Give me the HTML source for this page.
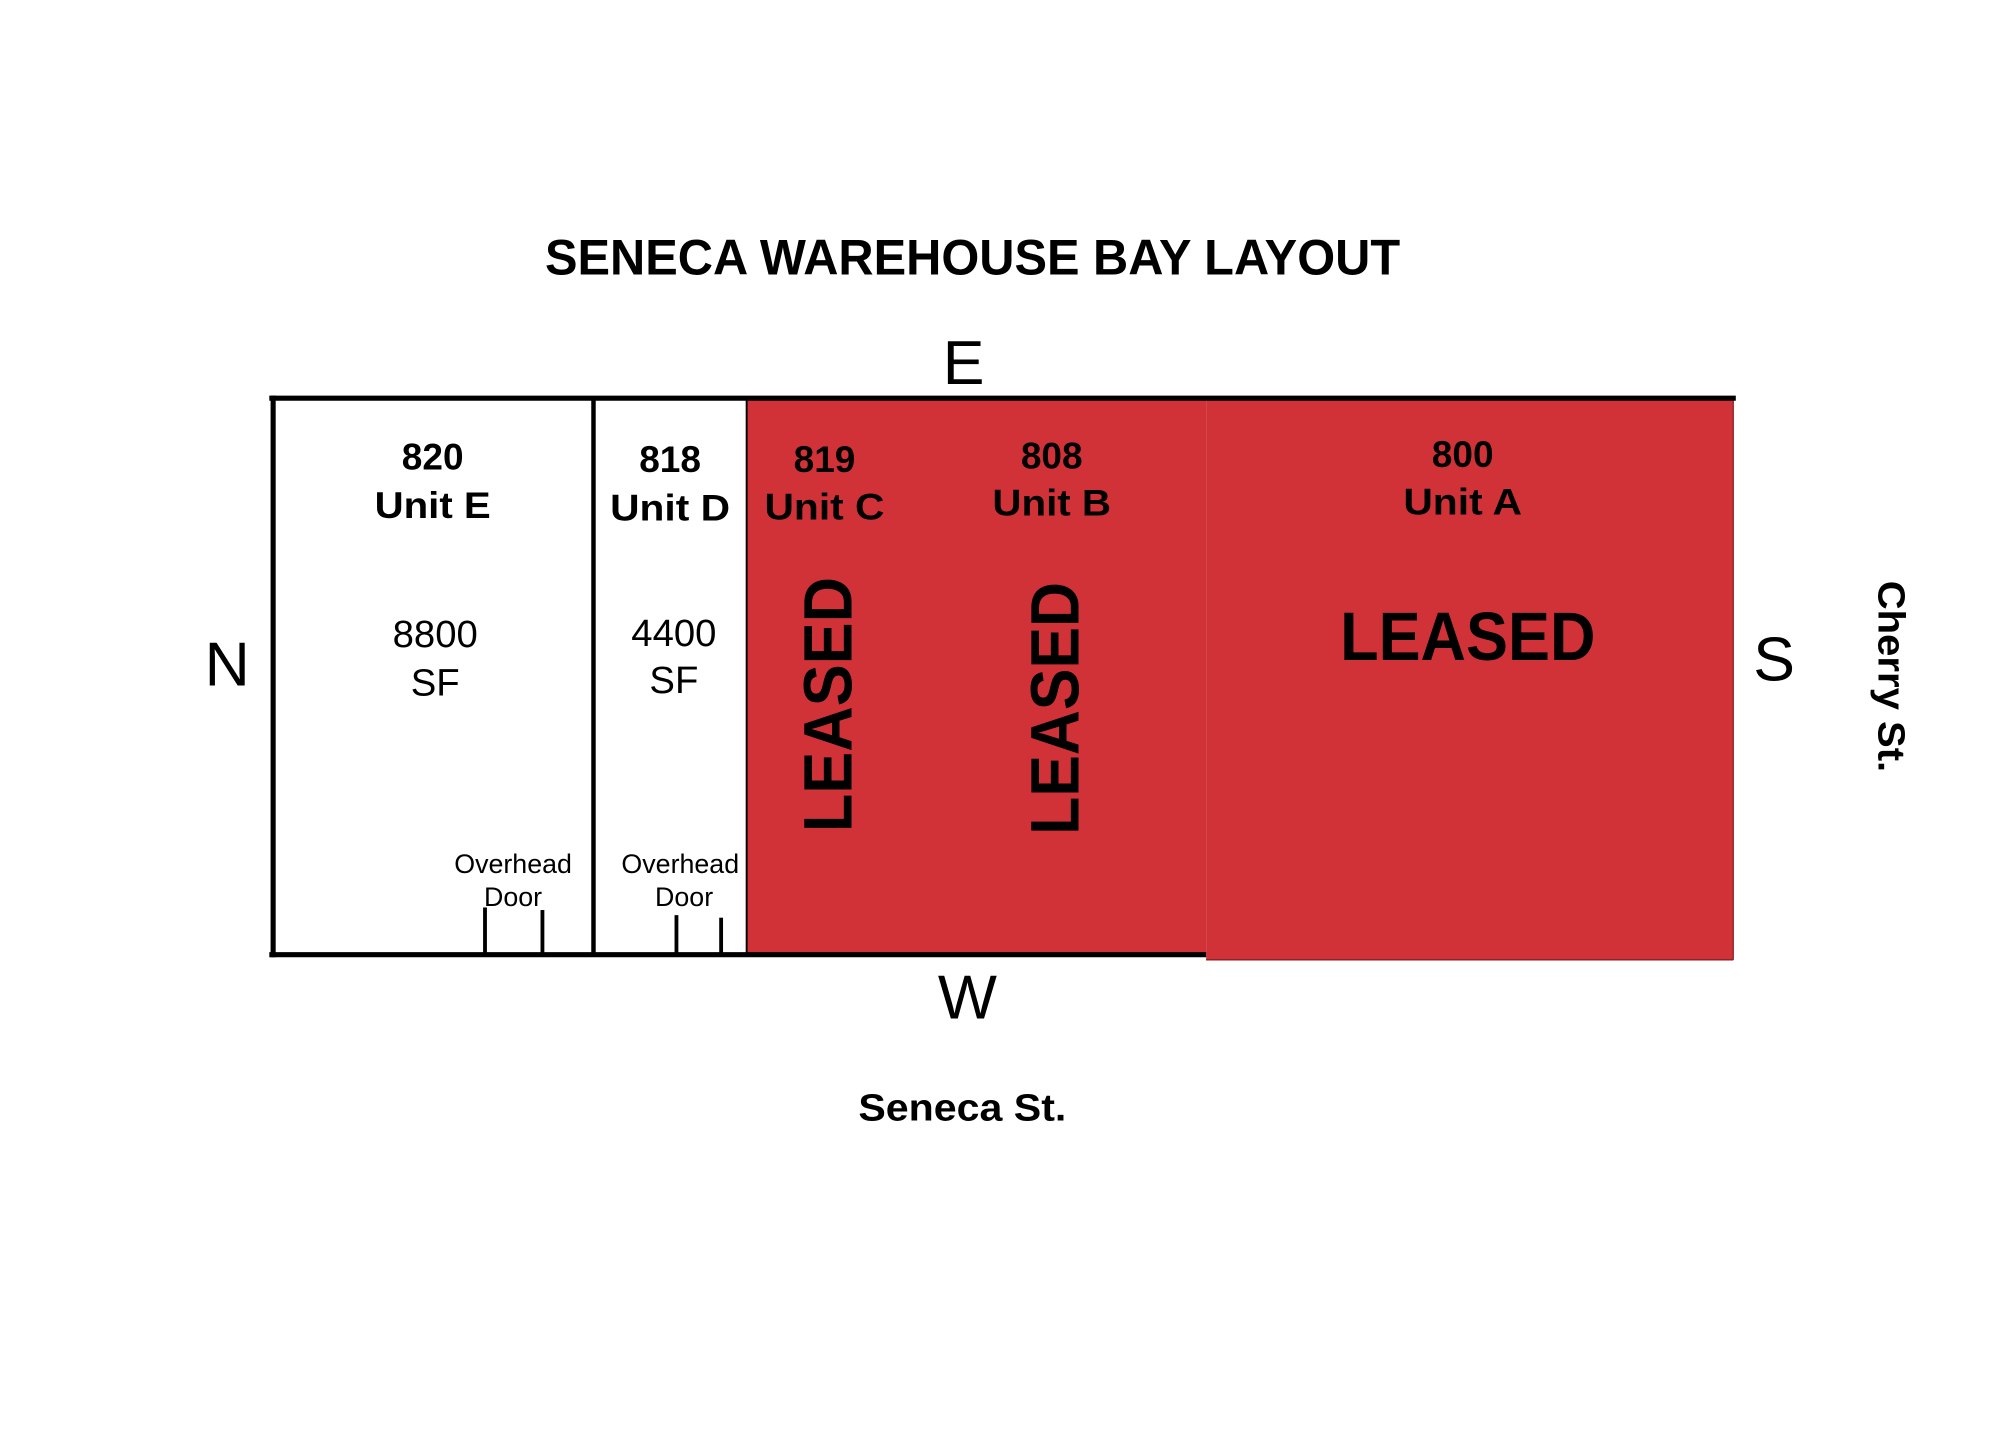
<!DOCTYPE html>
<html><head><meta charset="utf-8"><style>html,body{margin:0;padding:0;background:#fff}svg{display:block}</style></head>
<body>
<svg width="2000" height="1429" viewBox="0 0 1567 1119.6" preserveAspectRatio="none" xmlns="http://www.w3.org/2000/svg" font-family="Liberation Sans, Arial, sans-serif">
<rect x="0" y="0" width="1567" height="1120" fill="#fff"/>
<rect x="585" y="312" width="360" height="436" fill="#D13238"/>
<rect x="945" y="312" width="413" height="440" fill="#D13238"/>
<line x1="1358" y1="312" x2="1358" y2="752" stroke="#8a1e22" stroke-width="1"/>
<line x1="945" y1="752" x2="1358" y2="752" stroke="#8a1e22" stroke-width="1"/>
<line x1="211" y1="312" x2="1360" y2="312" stroke="#000" stroke-width="4"/>
<line x1="211" y1="748" x2="945" y2="748" stroke="#000" stroke-width="4"/>
<line x1="214" y1="310" x2="214" y2="750" stroke="#000" stroke-width="4"/>
<line x1="465" y1="312" x2="465" y2="748" stroke="#000" stroke-width="3.5"/>
<line x1="585" y1="312" x2="585" y2="748" stroke="#000" stroke-width="1.5"/>
<g stroke="#000" stroke-width="3">
<line x1="380" y1="711" x2="380" y2="748"/>
<line x1="425" y1="713" x2="425" y2="748"/>
<line x1="530" y1="717" x2="530" y2="748"/>
<line x1="565" y1="719" x2="565" y2="748"/>
</g>
<g fill="#000" text-anchor="middle">
<text x="762" y="215" font-size="39" font-weight="bold" textLength="670" lengthAdjust="spacingAndGlyphs">SENECA WAREHOUSE BAY LAYOUT</text>
<text x="755" y="301" font-size="49">E</text>
<text x="758" y="798" font-size="49">W</text>
<text x="178" y="537" font-size="49">N</text>
<text x="1390" y="533" font-size="49">S</text>
<text x="754" y="878" font-size="30" font-weight="bold" textLength="163" lengthAdjust="spacingAndGlyphs">Seneca St.</text>
<text transform="translate(1472,530) rotate(90)" font-size="30" font-weight="bold" textLength="150" lengthAdjust="spacingAndGlyphs">Cherry St.</text>
<g font-size="29" font-weight="bold">
<text x="339" y="368">820</text><text x="339" y="406" textLength="91" lengthAdjust="spacingAndGlyphs">Unit E</text>
<text x="525" y="370">818</text><text x="525" y="408" textLength="94" lengthAdjust="spacingAndGlyphs">Unit D</text>
<text x="646" y="370">819</text><text x="646" y="407" textLength="94" lengthAdjust="spacingAndGlyphs">Unit C</text>
<text x="824" y="367">808</text><text x="824" y="404" textLength="93" lengthAdjust="spacingAndGlyphs">Unit B</text>
<text x="1146" y="366">800</text><text x="1146" y="403" textLength="93" lengthAdjust="spacingAndGlyphs">Unit A</text>
</g>
<g font-size="30">
<text x="341" y="507">8800</text><text x="341" y="545">SF</text>
<text x="528" y="506">4400</text><text x="528" y="543">SF</text>
</g>
<g font-size="21">
<text x="402" y="684">Overhead</text><text x="402" y="710">Door</text>
<text x="533" y="684">Overhead</text><text x="536" y="710">Door</text>
</g>
<text x="1150" y="517" font-size="54" font-weight="bold" textLength="200" lengthAdjust="spacingAndGlyphs">LEASED</text>
<text transform="translate(667,552) rotate(-90)" font-size="54" font-weight="bold" textLength="200" lengthAdjust="spacingAndGlyphs">LEASED</text>
<text transform="translate(845,555) rotate(-90)" font-size="54" font-weight="bold" textLength="198" lengthAdjust="spacingAndGlyphs">LEASED</text>
</g>
</svg>
</body></html>
